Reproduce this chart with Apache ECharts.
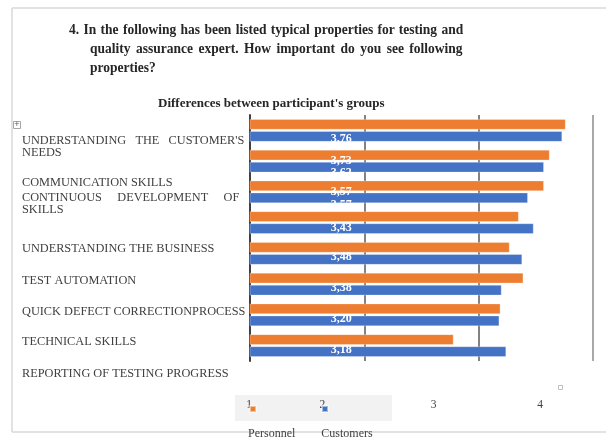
<!DOCTYPE html>
<html>
<head>
<meta charset="utf-8">
<script src="https://cdn.jsdelivr.net/npm/echarts@6/dist/echarts.min.js"></script>
<style>
  html, body { margin: 0; padding: 0; background: #fff; }
  #main { position: absolute; left: 0; top: 0; width: 606px; height: 439px; }
  .q { position: absolute; font-family: 'Liberation Serif', serif; font-weight: bold; font-size: 15px;
       color: #262626; white-space: nowrap; text-align: justify; text-align-last: justify; line-height: 19px;
       transform: scaleX(0.9); transform-origin: 0 0; }
</style>
</head>
<body>
<div id="main"></div>
<div class="q" style="left:69px; top:20px; width:438px;">4. In the following has been listed typical properties for testing and</div>
<div class="q" style="left:90px; top:39px; width:414px;">quality assurance expert. How important do you see following</div>
<div class="q" style="left:90px; top:58px; text-align:left; text-align-last:left;">properties?</div>
<script>
// data
const categories = [
  "UNDERSTANDING THE CUSTOMER'S NEEDS",
  'COMMUNICATION SKILLS',
  'CONTINUOUS DEVELOPMENT OF SKILLS',
  'UNDERSTANDING THE BUSINESS',
  'TEST AUTOMATION',
  'QUICK DEFECT CORRECTIONPROCESS',
  'TECHNICAL SKILLS',
  'REPORTING OF TESTING PROGRESS'
]
const personnel = [3.76, 3.62, 3.57, 3.35, 3.27, 3.39, 3.19, 2.78]
const customers = [3.73, 3.57, 3.43, 3.48, 3.38, 3.20, 3.18, 3.24]
const seriesNames = ['Personnel', 'Customers']
const tickValues = [1, 2, 3, 4]

// layout tweaks (the source picture is a badly rendered document chart)
const catLines = [
  ["UNDERSTANDING   THE   CUSTOMER'S", 'NEEDS'],
  ['COMMUNICATION SKILLS'],
  ['CONTINUOUS     DEVELOPMENT     OF', 'SKILLS'],
  ['UNDERSTANDING THE BUSINESS'],
  ['TEST AUTOMATION'],
  ['QUICK DEFECT CORRECTIONPROCESS'],
  ['TECHNICAL SKILLS'],
  ['REPORTING OF TESTING PROGRESS']
]
const catShift = [16.5, 22, 12, 26.5, 27.5, 27.7, 26.8, 28.2]
const tickShift = [1, 42, 45, 53]
const orangeLabel = [{ y: 15 }, { y: 18 }, { y: 19 }, null, null, null, null, null]
const blueLabel = [{ y: 24 }, { y: 25 }, { y: 30 }, { y: 28 }, { y: 28 }, { y: 29 }, { y: 29 }, null]

const fmt = v => v.toFixed(2).replace('.', ',')

const rich = { t: { fontFamily: 'Liberation Serif', fontSize: 12.3, lineHeight: 12, color: '#404040' } }
catShift.forEach((s, i) => { rich['p' + i] = { height: 2 * s, fontSize: 1, lineHeight: 2 * s } })
const tickRich = {}
tickShift.forEach((s, i) => {
  tickRich['k' + i] = { fontFamily: 'Liberation Serif', fontSize: 11.5, color: '#404040', padding: [0, 2 * s, 0, 0] }
})

function makeData (vals, lab) {
  return vals.map((v, i) => ({
    value: v,
    label: lab[i] ? { show: true, offset: [76, lab[i].y] } : { show: false }
  }))
}

const labelStyle = {
  show: true,
  position: 'insideLeft',
  formatter: p => fmt(p.value),
  color: '#fff',
  fontFamily: 'Liberation Serif',
  fontWeight: 'bold',
  fontSize: 12
}

let myChart = echarts.init(document.getElementById('main'))
let option = {
  animation: false,
  title: {
    text: "Differences between participant's groups",
    left: 153,
    top: 92,
    textStyle: { fontFamily: 'Liberation Serif', fontWeight: 'bold', fontSize: 13, color: '#262626' }
  },
  legend: [
    {
      data: seriesNames,
      left: 249,
      top: 405,
      padding: 0,
      icon: 'rect',
      itemWidth: 6,
      itemHeight: 6,
      itemGap: 64,
      selectedMode: false,
      formatter: () => ''
    },
    {
      data: seriesNames,
      left: 242,
      top: 428,
      padding: 0,
      icon: 'rect',
      itemWidth: 0,
      itemHeight: 0,
      itemGap: 20,
      selectedMode: false,
      textStyle: { fontFamily: 'Liberation Serif', fontSize: 12, color: '#404040' }
    }
  ],
  grid: { left: 250, right: 13, top: 115, bottom: 78 },
  xAxis: {
    type: 'value',
    min: tickValues[0],
    max: tickValues[tickValues.length - 1],
    interval: 1,
    axisLine: { show: false },
    axisTick: { show: false },
    axisLabel: {
      margin: 38,
      formatter: (v) => {
        const i = tickValues.indexOf(v)
        return '{k' + i + '|' + v + '}'
      },
      rich: tickRich
    },
    splitLine: {
      lineStyle: { color: ['#404040', '#595959', '#595959', '#8c8c8c'], width: 1.5 }
    }
  },
  yAxis: {
    type: 'category',
    inverse: true,
    data: categories,
    axisLine: { lineStyle: { color: '#404040', width: 2 } },
    axisTick: { show: false },
    axisLabel: {
      interval: 0,
      hideOverlap: false,
      align: 'left',
      margin: 228,
      formatter: (v, i) => '{p' + i + '| }\n' + catLines[i].map(l => '{t|' + l + '}').join('\n'),
      rich: rich
    }
  },
  series: [
    {
      name: seriesNames[0],
      type: 'bar',
      data: makeData(personnel, orangeLabel),
      barWidth: 10.5,
      barGap: '15%',
      itemStyle: { color: '#ED7D31', borderColor: 'rgba(255,255,255,0.5)', borderWidth: 0.6 },
      label: labelStyle
    },
    {
      name: seriesNames[1],
      type: 'bar',
      data: makeData(customers, blueLabel),
      barWidth: 10.5,
      barGap: '15%',
      itemStyle: { color: '#4472C4', borderColor: 'rgba(255,255,255,0.5)', borderWidth: 0.6 },
      label: labelStyle
    }
  ],
  graphic: [
    { type: 'rect', z: -1, shape: { x: 235, y: 395, width: 157, height: 26 }, style: { fill: '#f2f2f2' } },
    { type: 'line', shape: { x1: 12, y1: 8, x2: 606, y2: 8 }, style: { stroke: '#d9d9d9', lineWidth: 1.5 } },
    { type: 'line', shape: { x1: 12, y1: 8, x2: 12, y2: 432 }, style: { stroke: '#d9d9d9', lineWidth: 1.5 } },
    { type: 'line', shape: { x1: 12, y1: 432, x2: 606, y2: 432 }, style: { stroke: '#d9d9d9', lineWidth: 1.5 } },
    { type: 'rect', shape: { x: 13.5, y: 121.5, width: 7, height: 7 }, style: { fill: '#fff', stroke: '#a6a6a6', lineWidth: 1 } },
    { type: 'text', x: 17, y: 125, style: { text: '+', fontSize: 9, fill: '#595959', align: 'center', verticalAlign: 'middle' } },
    { type: 'rect', shape: { x: 558.5, y: 385.5, width: 4, height: 4 }, style: { fill: '#fff', stroke: '#bfbfbf', lineWidth: 1 } }
  ]
}
myChart.setOption(option)
window.addEventListener('resize', function () {
  myChart.resize()
})
</script>
</body>
</html>
